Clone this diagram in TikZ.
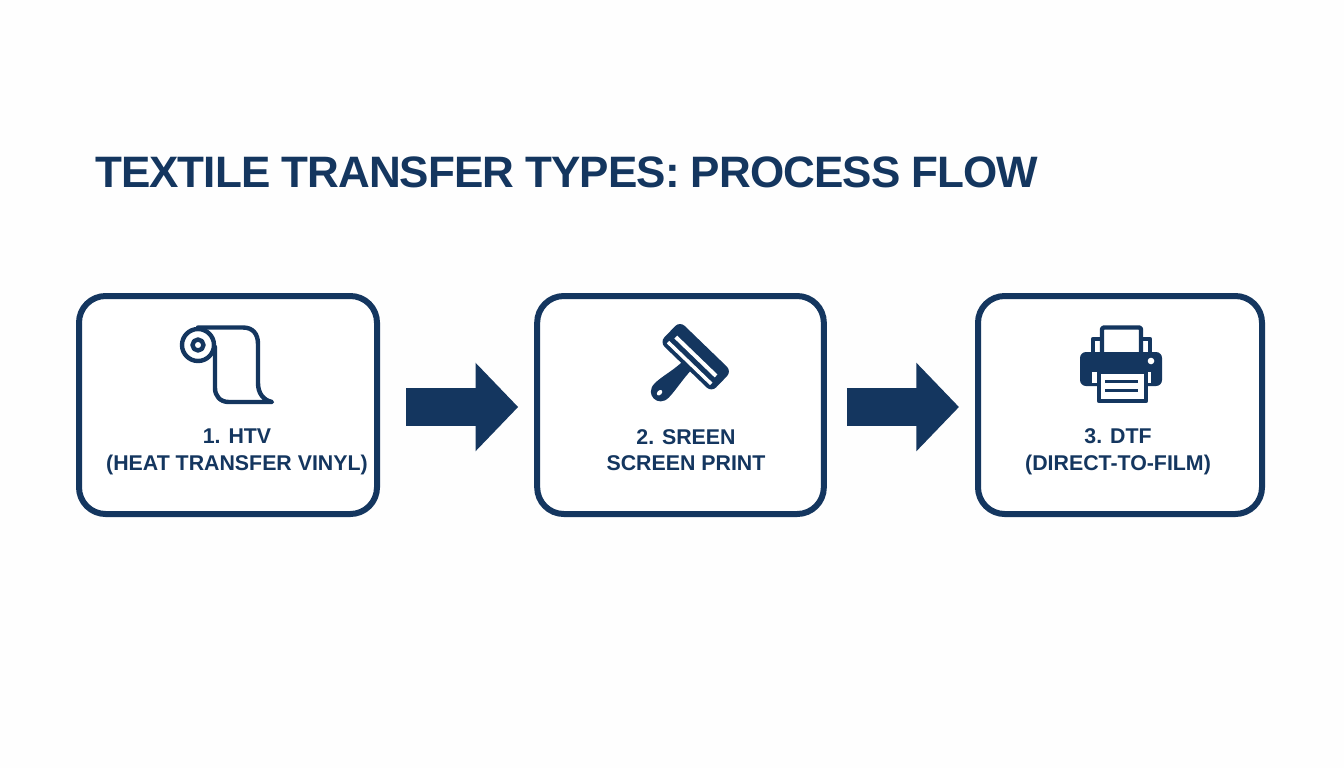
\documentclass[tikz,border=0pt]{standalone}
\usepackage{fontspec}
\setmainfont{Liberation Sans}
\newfontfamily\titlefont[LetterSpace=-2.2]{Liberation Sans}
\usetikzlibrary{arrows.meta, positioning}
\definecolor{tfnavy}{HTML}{14365F}
\definecolor{tfpaper}{HTML}{FEFEFE}

\begin{document}
\begin{tikzpicture}[
  x=0.75pt, y=-0.75pt,
  titlelabel/.style={font=\titlefont\fontsize{33}{40}\selectfont\bfseries, text=tfnavy, inner sep=0pt, anchor=west},
  stepbox/.style={rectangle, rounded corners=20pt, draw=tfnavy, line width=4.5pt, fill=white, minimum height=163.5pt, minimum width=#1},
  steplabel/.style={font=\fontsize{16}{20}\selectfont\bfseries, text=tfnavy, align=center, inner sep=0pt},
  flowarrow/.style={-{Triangle[length=32pt, width=64.5pt]}, tfnavy, line width=29pt},
  iconline/.style={draw=tfnavy, line width=3.3pt, line join=round, line cap=round},
]

\useasboundingbox (0,0) rectangle (1344,768);
\fill[tfpaper] (0,0) rectangle (1344,768);

% Title
\node[titlelabel] (title) at (95,172) {TEXTILE TRANSFER TYPES: PROCESS FLOW};

% Step boxes
\node[stepbox=223.5pt] (htv) at (228,405) {};
\node[stepbox=215pt] (screen) at (680.5,405) {};
\node[stepbox=213pt] (dtf) at (1120,405) {};

\node[steplabel] (htvlabel) at (237,452) {1. HTV\\(HEAT TRANSFER VINYL)};
\node[steplabel] (screenlabel) at (686,450) {2. SREEN\\SCREEN PRINT};
\node[steplabel] (dtflabel) at (1118,452) {3. DTF\\(DIRECT-TO-FILM)};

% Arrows
\draw[flowarrow, shorten <=19.5pt, shorten >=12pt] ([yshift=-1.5pt]htv.east) -- ([yshift=-1.5pt]screen.west);
\draw[flowarrow, shorten <=15pt, shorten >=12pt] ([yshift=-1.5pt]screen.east) -- ([yshift=-1.5pt]dtf.west);

% Vinyl roll icon
\draw[iconline] (198,327.5) -- (243,327.5) .. controls (253,327.5) and (258,334) .. (258,344)
  -- (258,383) .. controls (258,393) and (263,400) .. (272,402) -- (229,402)
  .. controls (220,402) and (215,396) .. (215,388) -- (215,347);
\draw[iconline, fill=white] (198,345) circle (16);
\draw[iconline] (198,345) circle (5.5);

% Squeegee icon
\begin{scope}[shift={(695.7,356.7)}, rotate=-44]
  \fill[tfnavy] (-6,10) -- (6,10) .. controls (6,24) and (9,38) .. (9,48)
    .. controls (9,63) and (-11,63) .. (-11,48) .. controls (-11,38) and (-6,24) .. (-6,10) -- cycle;
  \fill[white] (-1,51) ellipse (2.2 and 3.2);
  \fill[tfnavy, rounded corners=5pt] (-36,-14.5) rectangle (36,14.5);
  \fill[white] (-28,-2.3) rectangle (28,1.7);
  \fill[white] (-30,7) rectangle (30,10.5);
\end{scope}

% Printer icon
\draw[iconline, fill=white] (1093,352) -- (1093,339) -- (1150,339) -- (1150,352);
\draw[iconline, fill=white, rounded corners=1.5pt] (1102,352) -- (1102,327.5) -- (1141,327.5) -- (1141,352);
\fill[tfnavy, rounded corners=4.5pt] (1080,352) rectangle (1162,386);
\fill[white] (1151,361) circle (3.3);
\fill[white] (1092,372) rectangle (1151,383);
\draw[iconline, fill=white] (1099,372) rectangle (1146,401);
\fill[tfnavy] (1105,379.5) rectangle (1138,383);
\fill[tfnavy] (1105,388.5) rectangle (1138,392);

\end{tikzpicture}
\end{document}
